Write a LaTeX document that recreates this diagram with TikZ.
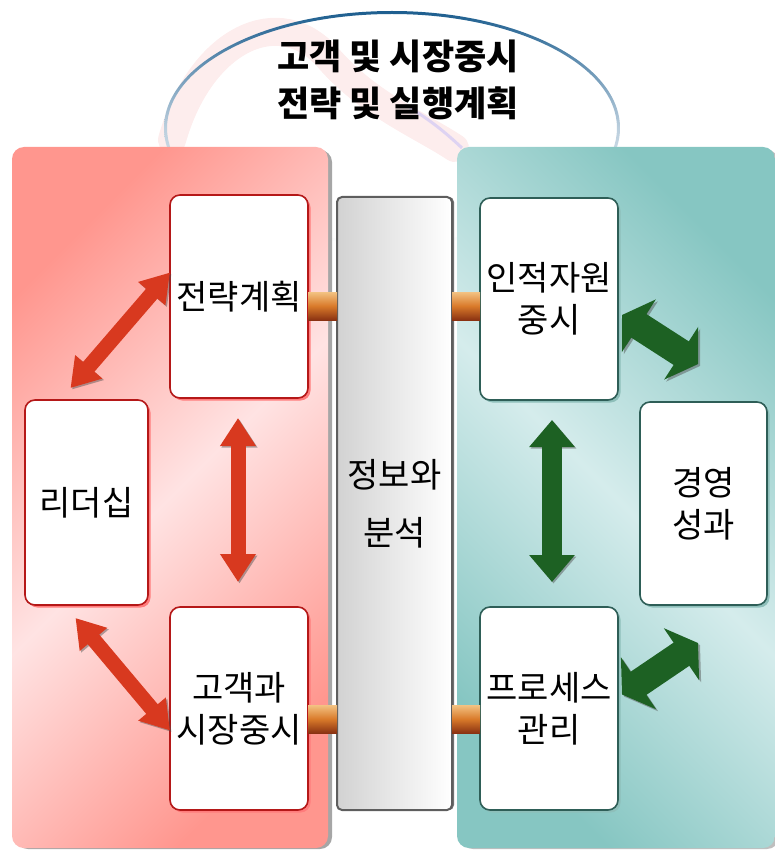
\documentclass[tikz,border=0pt]{standalone}
\usepackage{fontspec}
\setmainfont{Noto Sans CJK KR}
\usepackage{tikz}
\usetikzlibrary{arrows.meta, shadows}

\definecolor{PanelRed}{HTML}{FF968E}
\definecolor{PanelRedLight}{HTML}{FFE3E3}
\definecolor{PanelTeal}{HTML}{86C6C2}
\definecolor{PanelTealLight}{HTML}{D5ECEC}
\definecolor{EdgeRed}{HTML}{B51818}
\definecolor{ShadowRed}{HTML}{FF7C7C}
\definecolor{EdgeTeal}{HTML}{2E5E57}
\definecolor{ShadowTeal}{HTML}{8EBFBA}
\definecolor{ArrowRed}{HTML}{D8391F}
\definecolor{ArrowGreen}{HTML}{1D6123}
\definecolor{TubeLight}{HTML}{F3C282}
\definecolor{TubeMid}{HTML}{D97A2A}
\definecolor{TubeDark}{HTML}{8A3212}
\definecolor{RingBlue}{HTML}{1D5E8F}
\definecolor{SwirlPink}{HTML}{F08C8C}
\definecolor{InfoGray}{HTML}{D2D2D2}
\definecolor{InfoEdge}{HTML}{5E5E5E}

\begin{document}
\begin{tikzpicture}[x=1pt, y=-1pt,
    card/.style={fill=white, line width=1.6pt, rounded corners=10pt, inner sep=0pt, outer sep=0pt,
        align=center, font=\fontsize{34}{42}\selectfont},
    redbox/.style={card, draw=EdgeRed, general shadow={shadow xshift=2.5pt, shadow yshift=-2.5pt, fill=ShadowRed}},
    tealbox/.style={card, draw=EdgeTeal, general shadow={shadow xshift=2.5pt, shadow yshift=-2.5pt, fill=ShadowTeal}},
    infobox/.style={draw=InfoEdge, line width=2pt, rounded corners=5pt, inner sep=0pt, outer sep=0pt,
        left color=InfoGray, right color=white, align=center, font=\fontsize{34}{58}\selectfont,
        general shadow={shadow xshift=2pt, fill=black!55}},
    tube/.style={top color=TubeLight, bottom color=TubeDark, middle color=TubeMid},
    redarrow/.style={draw=ArrowRed, line width=15pt, {Triangle[width=34pt,length=28pt]}-{Triangle[width=34pt,length=28pt]},
        preaction={draw=black!70, opacity=.45, transform canvas={shift={(1.5pt,-1.5pt)}}}},
    greenarrow/.style={draw=ArrowGreen, line width=20pt, {Triangle[width=44pt,length=27pt]}-{Triangle[width=44pt,length=27pt]},
        preaction={draw=black!70, opacity=.45, transform canvas={shift={(1.5pt,-1.5pt)}}}},
    bentarrow/.style={draw=ArrowGreen, line width=28pt, {Triangle[width=62pt,length=20pt]}-{Triangle[width=62pt,length=20pt]},
        preaction={draw=black!70, opacity=.45, transform canvas={shift={(2pt,-2pt)}}}}]

    \useasboundingbox (0,0) rectangle (775,850);

    % draw ring and swirl behind the title
    \draw[line width=28pt, SwirlPink, opacity=.16, line cap=round]
        (172,140) .. controls (200,40) and (280,0) .. (330,60) .. controls (370,105) and (420,125) .. (455,148);
    \draw[line width=3pt, blue!40, opacity=.3] (410,108) .. controls (430,120) and (445,132) .. (462,148);
    \shade[even odd rule, top color=RingBlue, bottom color=white, middle color=RingBlue!30!white]
        (392,128) ellipse (228 and 117) (392,128) ellipse (225 and 114);

    % draw both panels
    \fill[black!35, rounded corners=12pt] (16,150) rectangle (332,849);
    \shade[rounded corners=12pt, top color=PanelRed, bottom color=PanelRed, middle color=PanelRedLight, shading angle=45]
        (12,147) rectangle (328,848);
    \fill[black!25, rounded corners=12pt] (461,150) rectangle (779,849);
    \shade[rounded corners=12pt, top color=PanelTeal, bottom color=PanelTeal, middle color=PanelTealLight, shading angle=-45]
        (457,147) rectangle (775,848);

    % title
    \node[font=\fontsize{35}{47}\selectfont\bfseries, align=center] (title) at (398,80) {고객 및 시장중시\\전략 및 실행계획};

    % draw boxes
    \node[infobox, minimum width=115pt, minimum height=613pt] (info) at (394.5,503.5) {정보와\\분석};
    \node[redbox, minimum width=138pt, minimum height=203pt] (plan) at (239,296.5) {전략계획};
    \node[redbox, minimum width=123pt, minimum height=205pt] (lead) at (86.5,502.5) {리더십};
    \node[redbox, minimum width=138pt, minimum height=203pt] (cust) at (239,708.5) {고객과\\시장중시};
    \node[tealbox, minimum width=138pt, minimum height=202pt] (hr) at (549,299) {인적자원\\중시};
    \node[tealbox, minimum width=127pt, minimum height=203pt] (perf) at (703.5,503.5) {경영\\성과};
    \node[tealbox, minimum width=138pt, minimum height=203pt] (proc) at (549,708.5) {프로세스\\관리};

    % draw tubes to the info box
    \shade[tube] ([shift={(0,-4.5)}]plan.east) rectangle ([shift={(0,23.5)}]plan.east -| info.west);
    \shade[tube] ([shift={(0,-7)}]hr.west -| info.east) rectangle ([shift={(0,21)}]hr.west);
    \shade[tube] ([shift={(0,-3.5)}]cust.east) rectangle ([shift={(0,24.5)}]cust.east -| info.west);
    \shade[tube] ([shift={(0,-3.5)}]proc.west -| info.east) rectangle ([shift={(0,24.5)}]proc.west);

    % draw arrows
    \draw[redarrow] ([shift={(0,-24)}]plan.west) -- ([shift={(-16,-12)}]lead.north);
    \draw[redarrow] ([shift={(-1,20)}]plan.south) -- ([shift={(-1,-25)}]cust.north);
    \draw[redarrow] ([shift={(-11,13)}]lead.south) -- ([shift={(0,22)}]cust.west);
    \draw[greenarrow] ([shift={(3,20)}]hr.south) -- ([shift={(3,-25)}]proc.north);
    \draw[bentarrow] ([shift={(4,16)}]hr.east) -- ([shift={(58,-38)}]perf.north west);
    \draw[bentarrow] ([shift={(4,-14)}]proc.east) -- ([shift={(58,38)}]perf.south west);

\end{tikzpicture}
\end{document}
